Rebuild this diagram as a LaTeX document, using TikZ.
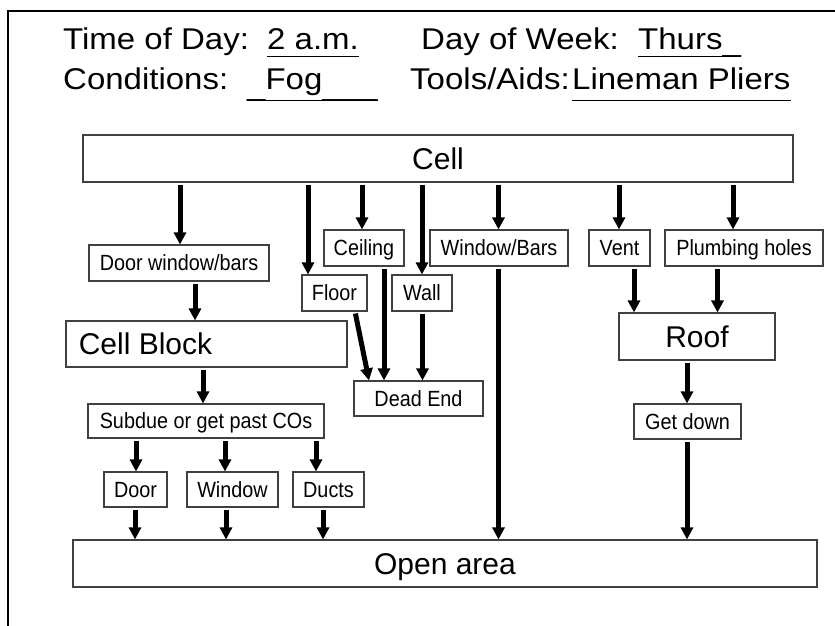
\documentclass[tikz,border=0pt]{standalone}
\usepackage{fontspec}
\setmainfont{Liberation Sans}
\newfontfamily\hdrfamily[FakeStretch=1.1]{Liberation Sans}
\newfontfamily\smallfamily[FakeStretch=0.9]{Liberation Sans}
\usetikzlibrary{arrows.meta}
\newcommand\boxsmallfont{\smallfamily\fontsize{22}{26}\selectfont}
\newcommand\boxbigfont{\fontsize{30}{36}\selectfont}
\newcommand\hdrfont{\hdrfamily\fontsize{30}{36}\selectfont}
\begin{document}
\begin{tikzpicture}[x=1pt,y=-1pt,
  smallbox/.style={draw=black!75, line width=1.1pt, inner sep=0pt, font=\boxsmallfont, text height=15.7pt, text depth=0pt, minimum height=36pt},
  bigbox/.style={draw=black!75, line width=1.1pt, inner sep=0pt, font=\boxbigfont, text height=21.5pt, text depth=0pt, minimum height=47pt},
  hdr/.style={anchor=base west, inner sep=0pt, font=\hdrfont},
  uline/.style={line width=1.8pt},
  arr/.style={line width=5pt, -{Triangle[width=12pt,length=12pt]}, shorten <=2pt},
  frameline/.style={line width=2.4pt}]
\fill[white] (0,0) rectangle (835,626);
\useasboundingbox (0,0) rectangle (835,626);
\draw[frameline] (8,626) -- (8,11) -- (835,11);

% header
\node[hdr] (h1a) at (63,49) {Time of Day:};
\node[hdr] (h1b) at (267,49) {2 a.m.};
\node[hdr] (h1c) at (421,49) {Day of Week:};
\node[hdr] (h1d) at (638,49) {Thurs\raisebox{-2pt}{\_}};
\node[hdr] (h2a) at (63,89) {Conditions:};
\node[hdr] (h2b) at (247,89) {\raisebox{-6pt}{\_}Fog\raisebox{-6pt}{\_\_\_}};
\node[hdr] (h2c) at (410,89) {Tools/Aids:};
\node[hdr] (h2d) at (572,89) {Lineman Pliers};
\draw[uline] ([yshift=-7.5pt]h1b.base west) -- ([yshift=-7.5pt]h1b.base east);
\draw[uline] ([yshift=-7.5pt]h1d.base west) -- ([yshift=-7.5pt]h1d.base east);
\draw[uline] ([yshift=-11.5pt]h2b.base west) -- ([yshift=-11.5pt]h2b.base east);
\draw[uline] ([yshift=-11.5pt]h2d.base west) -- ([yshift=-11.5pt]h2d.base east);

% boxes
\node[bigbox, minimum width=710pt] (cell) at (438,158.5) {Cell};
\node[smallbox, minimum width=180pt] (dwb) at (179,263) {Door window/bars};
\node[smallbox, minimum width=80pt] (ceiling) at (364,248) {Ceiling};
\node[smallbox, minimum width=65pt] (floor) at (334.5,293) {Floor};
\node[smallbox, minimum width=60pt] (wall) at (422,293) {Wall};
\node[smallbox, minimum width=138pt] (winbars) at (499,248) {Window/Bars};
\node[smallbox, minimum width=61pt] (vent) at (619.5,248) {Vent};
\node[smallbox, minimum width=158pt] (plumb) at (744,248) {Plumbing holes};
\node[bigbox, minimum width=281pt, minimum height=46pt] (cellblock) at (206.5,344) {};
\node[inner sep=0pt, font=\boxbigfont, text height=21.5pt, text depth=0pt] (cellblocktext) at (145.5,344) {Cell Block};
\node[bigbox, minimum width=156pt] (roof) at (697,336.5) {Roof};
\node[smallbox, minimum width=129pt, minimum height=35pt] (deadend) at (418.5,398.5) {Dead End};
\node[smallbox, minimum width=236pt, minimum height=34pt] (subdue) at (206,421) {Subdue or get past COs};
\node[smallbox, minimum width=107pt, minimum height=35pt] (getdown) at (687.5,421.5) {Get down};
\node[smallbox, minimum width=63pt, minimum height=35pt] (door) at (135.5,489.5) {Door};
\node[smallbox, minimum width=91pt, minimum height=35pt] (window) at (232.5,489.5) {Window};
\node[smallbox, minimum width=71pt, minimum height=35pt] (ducts) at (328.5,489.5) {Ducts};
\node[bigbox, minimum width=744pt] (open) at (445,563.5) {Open area};

% arrows
\draw[arr] (cell.south -| 180,0) -- (dwb.north -| 180,0);
\draw[arr] (cell.south -| 308,0) -- (floor.north -| 308,0);
\draw[arr] (cell.south -| 362,0) -- (ceiling.north -| 362,0);
\draw[arr] (cell.south -| 422,0) -- (wall.north -| 422,0);
\draw[arr] (cell.south -| 498.5,0) -- (winbars.north -| 498.5,0);
\draw[arr] (cell.south -| 619,0) -- (vent.north -| 619,0);
\draw[arr] (cell.south -| 733,0) -- (plumb.north -| 733,0);
\draw[arr] (dwb.south -| 195,0) -- (cellblock.north -| 195,0);
\draw[arr] (cellblock.south -| 203,0) -- (subdue.north -| 203,0);
\draw[arr] (subdue.south -| 136,0) -- (door.north -| 136,0);
\draw[arr] (subdue.south -| 225,0) -- (window.north -| 225,0);
\draw[arr] (subdue.south -| 316,0) -- (ducts.north -| 316,0);
\draw[arr] (door.south -| 135,0) -- (open.north -| 135,0);
\draw[arr] (window.south -| 226,0) -- (open.north -| 226,0);
\draw[arr] (ducts.south -| 323,0) -- (open.north -| 323,0);
\draw[arr] (floor.south -| 355,0) -- (deadend.north -| 369,0);
\draw[arr] (ceiling.south -| 384,0) -- (deadend.north -| 384,0);
\draw[arr] (wall.south -| 422.5,0) -- (deadend.north -| 422.5,0);
\draw[arr] (winbars.south -| 498.5,0) -- (open.north -| 498.5,0);
\draw[arr] (vent.south -| 634,0) -- (roof.north -| 634,0);
\draw[arr] (plumb.south -| 717.5,0) -- (roof.north -| 717.5,0);
\draw[arr] (roof.south -| 687,0) -- (getdown.north -| 687,0);
\draw[arr] (getdown.south -| 687,0) -- (open.north -| 687,0);
\end{tikzpicture}
\end{document}
